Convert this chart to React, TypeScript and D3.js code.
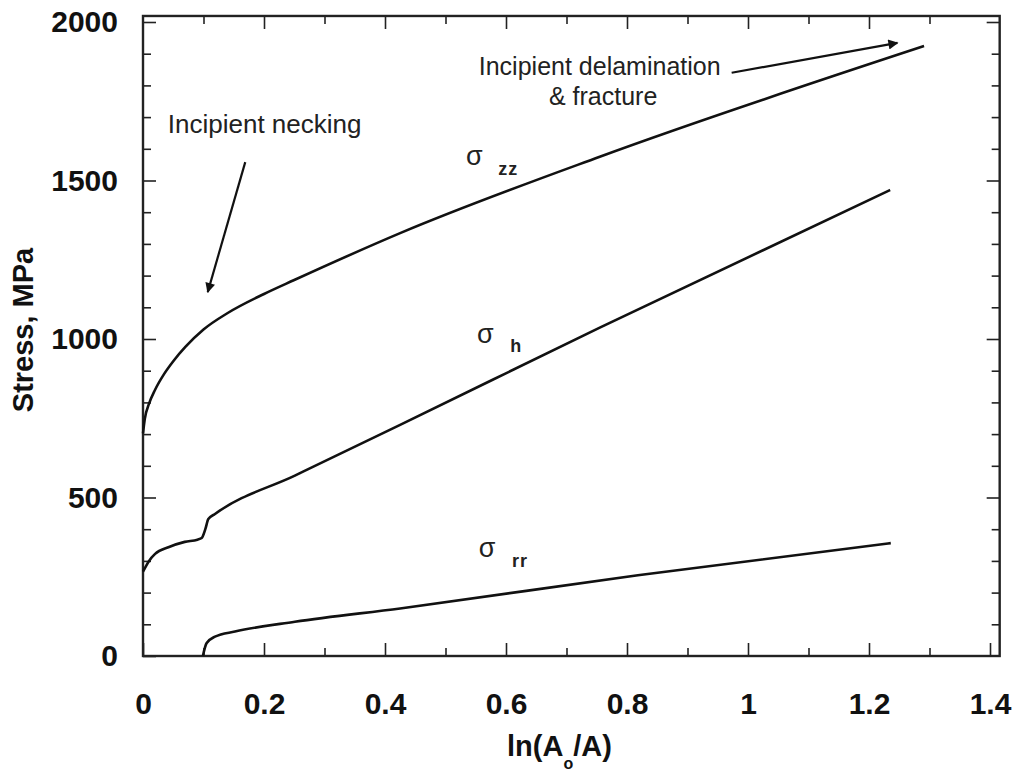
import { useRef, useEffect } from "react";
import * as d3 from "d3";

// sigma_zz curve (ln(Ao/A), MPa)
const zzX = [0, 0.003, 0.01, 0.02, 0.035, 0.05, 0.07, 0.1, 0.14, 0.2, 0.25, 0.425, 0.755, 1.291];
const zzY = [702, 748, 796, 840, 890, 930, 975, 1030, 1082, 1142, 1186, 1334, 1575, 1924];

// sigma_h curve
const hX = [0, 0.01, 0.02, 0.042, 0.069, 0.09, 0.097, 0.103, 0.108, 0.119, 0.251, 0.425, 0.755, 1.235];
const hY = [266, 300, 322, 343, 360, 367, 372, 400, 432, 448, 569, 729, 1036, 1470];

// sigma_rr curve
const rrX = [0.099, 0.105, 0.119, 0.152, 0.251, 0.425, 0.818, 1.236];
const rrY = [0, 40, 61, 77, 108, 150, 255, 356];

const xTicks = [0, 0.2, 0.4, 0.6, 0.8, 1, 1.2, 1.4];
const xMinor = [0.1, 0.3, 0.5, 0.7, 0.9, 1.1, 1.3];
const yTicks = [0, 500, 1000, 1500, 2000];
const yMinor = [100, 200, 300, 400, 600, 700, 800, 900, 1100, 1200, 1300, 1400, 1600, 1700, 1800, 1900];

const font = "'Liberation Sans', Arial, Helvetica, sans-serif";

const App = () => {
  const svgRef = useRef(null);

  useEffect(() => {
    const svg = d3.select(svgRef.current);
    svg.selectAll("*").remove();

    const x = d3.scaleLinear().domain([0, 1.4]).range([143, 990]);
    const y = d3.scaleLinear().domain([0, 2000]).range([656, 22]);
    const xMax = 1.416;
    const yMax = 2019;

    svg.append("rect").attr("width", 1021).attr("height", 774).attr("fill", "#fff");

    // arrowhead
    svg.append("defs")
      .append("marker")
      .attr("id", "arrowhead")
      .attr("viewBox", "0 0 10 10")
      .attr("refX", 9)
      .attr("refY", 5)
      .attr("markerWidth", 14)
      .attr("markerHeight", 10)
      .attr("markerUnits", "userSpaceOnUse")
      .attr("orient", "auto")
      .append("path")
      .attr("d", "M 0 0 L 10 5 L 0 10 z")
      .style("fill", "#111");

    const styleAxis = (g) => {
      g.select(".domain").remove();
      g.selectAll("line").attr("stroke", "#222").attr("stroke-width", 1.6);
      g.selectAll("text")
        .attr("font-family", font)
        .attr("font-size", 30)
        .attr("font-weight", "bold")
        .attr("fill", "#111");
    };

    // bottom
    svg.append("g")
      .attr("transform", `translate(0,${y(0)})`)
      .call(d3.axisBottom(x).tickValues(xTicks).tickSize(-13).tickPadding(37).tickFormat(d3.format("")))
      .call(styleAxis);
    svg.append("g")
      .attr("transform", `translate(0,${y(0)})`)
      .call(d3.axisBottom(x).tickValues(xMinor).tickSize(-8).tickFormat(() => ""))
      .call(styleAxis);
    // top
    svg.append("g")
      .attr("transform", `translate(0,${y(yMax)})`)
      .call(d3.axisTop(x).tickValues(xTicks.slice(1, -1)).tickSize(-13).tickFormat(() => ""))
      .call(styleAxis);
    svg.append("g")
      .attr("transform", `translate(0,${y(yMax)})`)
      .call(d3.axisTop(x).tickValues(xMinor).tickSize(-8).tickFormat(() => ""))
      .call(styleAxis);
    // left
    svg.append("g")
      .attr("transform", `translate(${x(0)},0)`)
      .call(d3.axisLeft(y).tickValues(yTicks).tickSize(-13).tickPadding(25).tickFormat(d3.format("")))
      .call(styleAxis);
    svg.append("g")
      .attr("transform", `translate(${x(0)},0)`)
      .call(d3.axisLeft(y).tickValues(yMinor).tickSize(-8).tickFormat(() => ""))
      .call(styleAxis);
    // right
    svg.append("g")
      .attr("transform", `translate(${x(xMax)},0)`)
      .call(d3.axisRight(y).tickValues(yTicks.slice(1)).tickSize(-13).tickFormat(() => ""))
      .call(styleAxis);
    svg.append("g")
      .attr("transform", `translate(${x(xMax)},0)`)
      .call(d3.axisRight(y).tickValues(yMinor).tickSize(-8).tickFormat(() => ""))
      .call(styleAxis);

    // frame
    svg.append("rect")
      .attr("x", x(0))
      .attr("y", y(yMax))
      .attr("width", x(xMax) - x(0))
      .attr("height", y(0) - y(yMax))
      .attr("fill", "none")
      .attr("stroke", "#222")
      .attr("stroke-width", 2.4);

    // curves
    const line = d3.line()
      .x((d) => x(d[0]))
      .y((d) => y(d[1]))
      .curve(d3.curveMonotoneX);

    [[zzX, zzY], [hX, hY], [rrX, rrY]].forEach(([xs, ys]) => {
      svg.append("path")
        .datum(xs.map((v, i) => [v, ys[i]]))
        .attr("fill", "none")
        .attr("stroke", "#111")
        .attr("stroke-width", 2.6)
        .attr("d", line);
    });

    // annotations
    const addText = (tx, ty, str, size, weight) =>
      svg.append("text")
        .attr("x", x(tx))
        .attr("y", y(ty))
        .attr("font-family", font)
        .attr("font-size", size)
        .attr("font-weight", weight)
        .attr("fill", "#222")
        .text(str);

    addText(0.041, 1650, "Incipient necking", 26, "normal");
    addText(0.555, 1832, "Incipient delamination", 25, "normal");
    addText(0.671, 1738, "& fracture", 25, "normal");

    const arrows = [
      [[0.169, 1558], [0.107, 1148]],
      [[0.973, 1840], [1.247, 1934]],
    ];
    arrows.forEach((a) => {
      svg.append("line")
        .attr("x1", x(a[0][0])).attr("y1", y(a[0][1]))
        .attr("x2", x(a[1][0])).attr("y2", y(a[1][1]))
        .attr("stroke", "#111")
        .attr("stroke-width", 2.2)
        .attr("marker-end", "url(#arrowhead)");
    });

    // sigma labels
    addText(0.534, 1549, "σ", 27, "normal");
    addText(0.587, 1517, "zz", 18, "bold").attr("letter-spacing", 1);
    addText(0.552, 987, "σ", 27, "normal");
    addText(0.607, 959, "h", 18, "bold");
    addText(0.555, 312, "σ", 27, "normal");
    addText(0.61, 281, "rr", 18, "bold").attr("letter-spacing", 1);

    // axis titles
    svg.append("text")
      .attr("transform", "translate(33,330) rotate(-90)")
      .attr("text-anchor", "middle")
      .attr("font-family", font)
      .attr("font-size", 29)
      .attr("font-weight", "bold")
      .attr("fill", "#111")
      .text("Stress, MPa");

    const xt = svg.append("text")
      .attr("x", 507)
      .attr("y", 756)
      .attr("font-family", font)
      .attr("font-size", 29)
      .attr("font-weight", "bold")
      .attr("fill", "#111");
    xt.append("tspan").text("ln(A");
    xt.append("tspan").attr("font-size", 16).attr("dy", 13).text("o");
    xt.append("tspan").attr("dy", -13).text("/A)");
  }, []);

  return (
    <svg
      ref={svgRef}
      width={1021}
      height={774}
      style={{ position: "absolute", left: 0, top: 0 }}
    ></svg>
  );
};

export default App;
